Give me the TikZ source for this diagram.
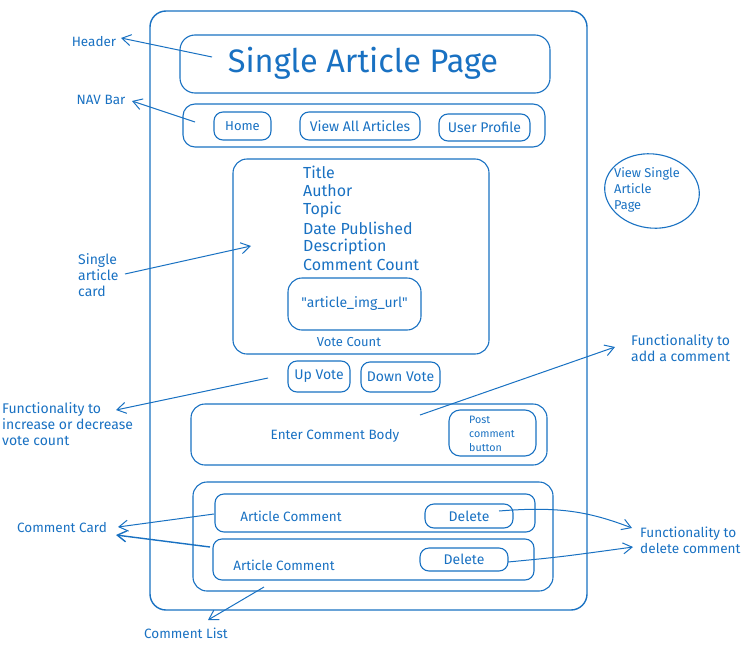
\documentclass[tikz,border=0pt]{standalone}
\usepackage{fontspec}
\setmainfont{Fira Sans}
\usetikzlibrary{arrows.meta,shapes.geometric}
\definecolor{ink}{HTML}{1971C2}
\begin{document}
\begin{tikzpicture}[x=1pt,y=-1pt,
  box/.style={draw=ink, line width=1.1pt, rounded corners=9pt, inner sep=0pt, text=ink, font=\fontsize{14}{16}\selectfont},
  bigbox/.style={box, rounded corners=15pt},
  txt/.style={text=ink, inner sep=0pt, font=\fontsize{13.5}{16}\selectfont},
  lbl/.style={text=ink, inner sep=0pt, align=left, font=\fontsize{14}{16}\selectfont},
  field/.style={text=ink, inner sep=0pt, anchor=west, font=\fontsize{16}{18}\selectfont},
  arr/.style={draw=ink, line width=1pt, -{Straight Barb[length=9pt,width=11pt]}},
]
\useasboundingbox (0,0) rectangle (755,648);

% page frame
\node[bigbox, rounded corners=16pt, line width=1.4pt, minimum width=437pt, minimum height=599pt] (page) at (368.5,310.5) {};

% header
\node[bigbox, minimum width=370pt, minimum height=58pt] (header) at (365,64) {};
\node[txt, font=\fontsize{32.5}{34}\selectfont] (title) at (363,63) {Single Article Page};

% nav bar
\node[box, rounded corners=12pt, minimum width=362pt, minimum height=43pt] (nav) at (364,125.5) {};
\node[box, font=\fontsize{13}{15}\selectfont, minimum width=57pt, minimum height=28pt] (home) at (242.5,126) {Home};
\node[box, minimum width=120pt, minimum height=28pt] (viewall) at (360,126) {View All Articles};
\node[box, minimum width=91pt, minimum height=27pt] (profile) at (484.5,127.5) {User Profile};

% article card
\node[bigbox, rounded corners=14pt, minimum width=256pt, minimum height=195pt] (card) at (361,256.5) {};
\node[field] (f1) at (303,172) {Title};
\node[field] (f2) at (303,191) {Author};
\node[field] (f3) at (303,210) {Topic};
\node[field] (f4) at (303,228) {Date Published};
\node[field] (f5) at (303,247) {Description};
\node[field] (f6) at (303,265) {Comment Count};
\node[bigbox, rounded corners=14pt, minimum width=133pt, minimum height=52pt] (img) at (354.5,304) {\textquotedbl article\_img\_url\textquotedbl};
\node[txt, font=\fontsize{13}{15}\selectfont] (votecount) at (349,342) {Vote Count};

% vote buttons
\node[box, minimum width=62pt, minimum height=31pt] (up) at (319,376.5) {Up Vote};
\node[box, minimum width=79pt, minimum height=30pt] (down) at (400.5,377) {Down Vote};

% comment form
\node[bigbox, rounded corners=14pt, minimum width=356pt, minimum height=61pt] (form) at (369,434.5) {};
\node[txt] (enter) at (335,436) {Enter Comment Body};
\node[box, rounded corners=11pt, minimum width=87pt, minimum height=46pt] (post) at (492.5,433) {};
\node[txt, anchor=west, align=left, font=\fontsize{10.7}{14}\selectfont] (posttxt) at (469,434) {Post\\comment\\button};

% comment list
\node[bigbox, rounded corners=14pt, minimum width=360pt, minimum height=109pt] (list) at (373,536.5) {};
\node[box, minimum width=320pt, minimum height=38pt] (c1) at (375,513) {};
\node[txt] (c1t) at (291,516) {Article Comment};
\node[box, minimum width=88pt, minimum height=24pt] (d1) at (469,516) {Delete};
\node[box, minimum width=321pt, minimum height=41pt] (c2) at (373.5,559.5) {};
\node[txt] (c2t) at (284,565) {Article Comment};
\node[box, minimum width=88pt, minimum height=23pt] (d2) at (464,559.5) {Delete};

% ellipse note
\node[draw=ink, line width=1.1pt, ellipse, rotate=-8, minimum width=95pt, minimum height=74pt] (ell) at (652,191) {};
\node[lbl, font=\fontsize{12.8}{16}\selectfont, anchor=west] (elltxt) at (614,190) {View Single\\Article\\Page};

% annotation labels
\node[txt] (lhead) at (94,42) {Header};
\node[txt] (lnav) at (101,100) {NAV Bar};
\node[lbl, anchor=west] (lcard) at (78,275) {Single\\article\\card};
\node[lbl, anchor=west] (lvote) at (2,424) {Functionality to\\increase or decrease\\vote count};
\node[lbl, anchor=west] (ladd) at (631,348) {Functionality to\\add a comment};
\node[txt] (lccard) at (62,528) {Comment Card};
\node[txt] (llist) at (186,633) {Comment List};
\node[lbl, font=\fontsize{13.6}{16}\selectfont, anchor=west] (ldel) at (640,540) {Functionality to\\delete comment};

% arrow end points
\coordinate (a1s) at (212,57);  \coordinate (a1e) at (121,38);
\coordinate (a2s) at (195,122); \coordinate (a2e) at (132,101);
\coordinate (a3s) at (125,274); \coordinate (a3e) at (251,246);
\coordinate (a4s) at (268,378); \coordinate (a4e) at (116,410);
\coordinate (a5s) at (420,415); \coordinate (a5e) at (615,347);
\coordinate (a6s) at (214,514); \coordinate (a6e) at (118,527);
\coordinate (a7s) at (210,547); \coordinate (a7e) at (116,535);
\coordinate (a8s) at (264,587); \coordinate (a8e) at (208,620);
\coordinate (a9s) at (499,511); \coordinate (a9e) at (632,528);
\coordinate (a10s) at (508,562); \coordinate (a10e) at (633,547);

\draw[arr] (a1s) -- (a1e);
\draw[arr] (a2s) -- (a2e);
\draw[arr] (a3s) -- (a3e);
\draw[arr] (a4s) -- (a4e);
\draw[arr] (a5s) -- (a5e);
\draw[arr] (a6s) -- (a6e);
\draw[arr, line width=1.4pt] (a7s) -- (a7e);
\draw[arr] (a8s) -- (a8e);
\draw[arr] (a9s) .. controls (560,506) and (590,512) .. (a9e);
\draw[arr] (a10s) .. controls (560,557) .. (a10e);
\end{tikzpicture}
\end{document}
